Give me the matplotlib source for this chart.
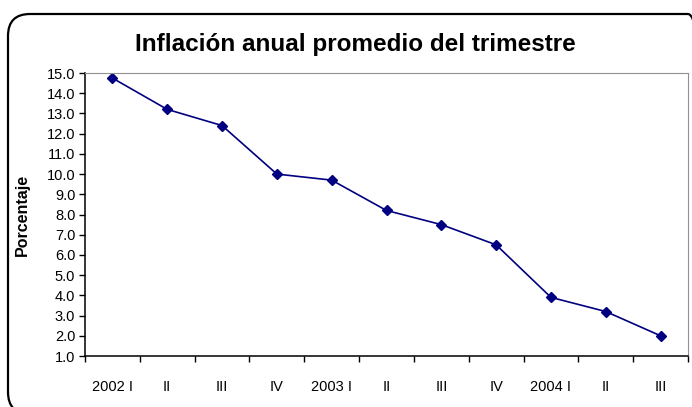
import matplotlib
matplotlib.use("Agg")
import matplotlib.pyplot as plt
from matplotlib.patches import FancyBboxPatch

plt.rcParams['font.family'] = ['Liberation Sans', 'DejaVu Sans']

categories = ["2002 I", "II", "III", "IV", "2003 I", "II", "III", "IV", "2004 I", "II", "III"]
values = [14.75, 13.2, 12.4, 10.0, 9.7, 8.2, 7.5, 6.5, 3.9, 3.2, 2.0]
yticks = [1.0 + i for i in range(15)]

W, H = 692, 407
fig = plt.figure(figsize=(W / 100, H / 100), dpi=100)
bx0, by_top, bx1, by_bot = 8, 14, 710, 414
box = FancyBboxPatch((bx0 / W, 1 - by_bot / H), (bx1 - bx0) / W, (by_bot - by_top) / H,
                     boxstyle="round,pad=0,rounding_size=%f" % (22 / W),
                     transform=fig.transFigure, fill=False, edgecolor="black", linewidth=1.6,
                     mutation_aspect=W / H, clip_on=False)
fig.patches.append(box)

ax = fig.add_axes([85 / W, 1 - 356 / H, 603 / W, 283 / H])
x = list(range(len(categories)))
ax.plot(x, values, color="#000080", marker="D", markersize=5.5, linewidth=1.2)
ax.set_xlim(-0.5, len(categories) - 0.5)
ax.set_ylim(1, 15)
ax.set_yticks(yticks)
ax.set_yticklabels([f"{v:.1f}" for v in yticks], fontsize=10.5)
ax.set_xticks(x)
ax.set_xticklabels(categories, fontsize=10.5)
ax.tick_params(axis='x', length=0, pad=17)
ax.set_xticks([i - 0.5 for i in range(len(categories) + 1)], minor=True)
ax.tick_params(axis='x', which='minor', direction='out', length=4, width=1)
ax.tick_params(axis='y', direction='out', length=4, width=1, pad=3)
ax.spines['left'].set_color('black')
ax.spines['bottom'].set_color('black')
ax.spines['left'].set_linewidth(1.1)
ax.spines['bottom'].set_linewidth(1.1)
ax.spines['top'].set_color('#909090')
ax.spines['right'].set_color('#909090')
ax.set_ylabel("Porcentaje", fontsize=11.5, fontweight='bold', ha='center', va='center')
ax.yaxis.set_label_coords((22 - 85) / 603, 0.5)

fig.text(355 / W, 1 - 45 / H, "Inflación anual promedio del trimestre",
         ha='center', va='center', fontsize=17.5, fontweight='bold')

fig.savefig("out.png", dpi=100)
